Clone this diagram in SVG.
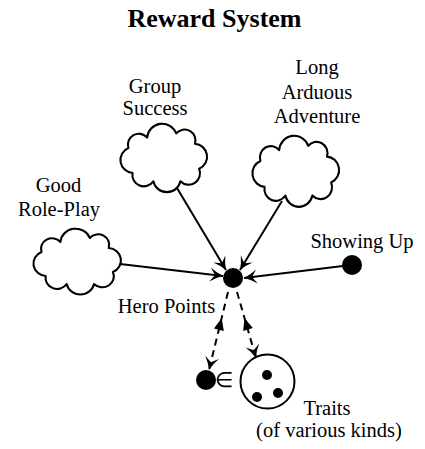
<svg xmlns="http://www.w3.org/2000/svg" width="425" height="449" viewBox="0 0 425 449">
<style>
text{font-family:"Liberation Serif","Times New Roman",serif;font-size:20.5px;fill:#000;text-anchor:middle}
.title{font-weight:bold;font-size:26px}
.cloud{fill:#fff;stroke:#000;stroke-width:2;stroke-linejoin:round}
.edge{fill:none;stroke:#000;stroke-width:2}
.dash{stroke-dasharray:7,5}
.dot{fill:#000}
</style>
<defs>
<path id="cloud" d="M10,24 A10.5,10.5 0 0 1 28,14 A14.5,14.5 0 0 1 56,10 A10.5,10.5 0 0 1 74,20 A12.5,12.5 0 0 1 78,44 A11,11 0 0 1 60,56 A13.3,13.3 0 0 1 34,56 A11,11 0 0 1 14,48 A12.5,12.5 0 0 1 10,24 Z"/>
<marker id="vee" viewBox="-14 -8 16 16" refX="0" refY="0" markerWidth="16" markerHeight="16" markerUnits="userSpaceOnUse" orient="auto">
<path d="M0,0 Q-7,-2.5 -13,-7 L-8,0 L-13,7 Q-7,2.5 0,0 Z" fill="#000"/>
</marker>
</defs>
<text class="title" x="214.5" y="27">Reward System</text>
<g id="connectors">
<path class="edge" d="M120,264 L223,276" marker-end="url(#vee)"/>
<path class="edge" d="M177,188 L226,270" marker-end="url(#vee)"/>
<path class="edge" d="M282,201 L240,270" marker-end="url(#vee)"/>
<path class="edge" d="M343,266 L244,278" marker-end="url(#vee)"/>
<path class="edge dash" d="M228,292 L209,370" marker-end="url(#vee)"/>
<polygon points="221.7,318 223.8,330.9 214,328.5" fill="#000"/>
<path class="edge dash" d="M237,292 L256,358" marker-end="url(#vee)"/>
<polygon points="244.5,318 252.8,328.1 243.2,330.9" fill="#000"/>
</g>
<g id="roleplay">
<use href="#cloud" class="cloud" transform="translate(31,228) scale(1.05,1)"/>
<text x="58.5" y="192">Good</text>
<text x="59" y="216">Role-Play</text>
</g>
<g id="group">
<use href="#cloud" class="cloud" transform="translate(118,123) scale(1.04,1.04)"/>
<text x="155" y="93">Group</text>
<text x="155" y="115">Success</text>
</g>
<g id="long">
<use href="#cloud" class="cloud" transform="translate(250,135) scale(1.04,1.08)"/>
<text x="317" y="74">Long</text>
<text x="317" y="99">Arduous</text>
<text x="317" y="123">Adventure</text>
</g>
<g id="showing">
<circle class="dot" cx="352" cy="265" r="10"/>
<text x="362" y="248">Showing Up</text>
</g>
<g id="hero">
<circle class="dot" cx="233" cy="278" r="10"/>
<text x="166.5" y="313">Hero Points</text>
</g>
<g id="element">
<circle class="dot" cx="206" cy="380" r="10"/>
<text x="223.5" y="387">∈</text>
</g>
<g id="traits">
<circle cx="267.5" cy="381.5" r="27" fill="#fff" stroke="#000" stroke-width="2"/>
<circle class="dot" cx="267" cy="375" r="5"/>
<circle class="dot" cx="257" cy="397" r="5"/>
<circle class="dot" cx="278" cy="393" r="5"/>
<text x="327" y="415">Traits</text>
<text x="329" y="437">(of various kinds)</text>
</g>
</svg>
